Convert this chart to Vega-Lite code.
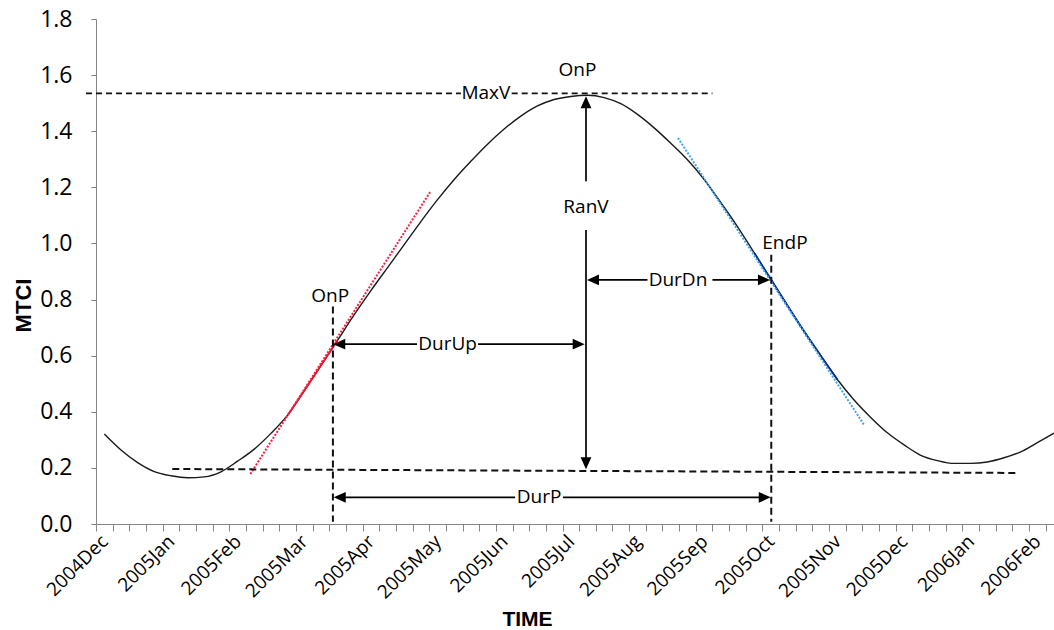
{
  "$schema": "https://vega.github.io/schema/vega-lite/v6.json",
  "width": 958,
  "height": 505,
  "autosize": "none",
  "padding": {"left": 96, "top": 19, "right": 0, "bottom": 106},
  "background": "white",
  "config": {"view": {"stroke": null}, "font": "Open Sans"},
  "datasets": {
    "curve": [
      {"t": 0.5, "v": 0.321}, {"t": 1.5, "v": 0.264}, {"t": 2.5, "v": 0.219}, {"t": 3.5, "v": 0.187},
      {"t": 4.5, "v": 0.172}, {"t": 5.5, "v": 0.165}, {"t": 6.5, "v": 0.168}, {"t": 7.5, "v": 0.186},
      {"t": 8.5, "v": 0.224}, {"t": 9.5, "v": 0.267}, {"t": 10.5, "v": 0.323}, {"t": 11.5, "v": 0.388},
      {"t": 12.5, "v": 0.475}, {"t": 13.5, "v": 0.565}, {"t": 14.5, "v": 0.655}, {"t": 15.5, "v": 0.746},
      {"t": 16.5, "v": 0.832}, {"t": 17.5, "v": 0.914}, {"t": 18.5, "v": 0.996}, {"t": 19.5, "v": 1.078},
      {"t": 20.5, "v": 1.156}, {"t": 21.5, "v": 1.228}, {"t": 22.5, "v": 1.293}, {"t": 23.5, "v": 1.354},
      {"t": 24.5, "v": 1.408}, {"t": 25.5, "v": 1.454}, {"t": 26.5, "v": 1.490}, {"t": 27.5, "v": 1.513},
      {"t": 28.5, "v": 1.524}, {"t": 29.5, "v": 1.528}, {"t": 30.5, "v": 1.520}, {"t": 31.5, "v": 1.498},
      {"t": 32.5, "v": 1.460}, {"t": 33.5, "v": 1.412}, {"t": 34.5, "v": 1.357}, {"t": 35.5, "v": 1.298},
      {"t": 36.5, "v": 1.228}, {"t": 37.5, "v": 1.146}, {"t": 38.5, "v": 1.060}, {"t": 39.5, "v": 0.967},
      {"t": 40.5, "v": 0.873}, {"t": 41.5, "v": 0.779}, {"t": 42.5, "v": 0.687}, {"t": 43.5, "v": 0.600},
      {"t": 44.5, "v": 0.515}, {"t": 45.5, "v": 0.442}, {"t": 46.5, "v": 0.380}, {"t": 47.5, "v": 0.325},
      {"t": 48.5, "v": 0.282}, {"t": 49.5, "v": 0.245}, {"t": 50.5, "v": 0.226}, {"t": 51.5, "v": 0.216},
      {"t": 52.5, "v": 0.216}, {"t": 53.5, "v": 0.221}, {"t": 54.5, "v": 0.236}, {"t": 55.5, "v": 0.257},
      {"t": 56.5, "v": 0.290}, {"t": 57.5, "v": 0.324}
    ],
    "dashedThin": [
      {"t": -0.6, "v": 1.535, "t2": 21.9, "v2": 1.535},
      {"t": 24.95, "v": 1.535, "t2": 37.0, "v2": 1.535}
    ],
    "dashedThick": [
      {"t": 4.58, "v": 0.196, "t2": 55.2, "v2": 0.182},
      {"t": 14.22, "v": 0.775, "t2": 14.22, "v2": 0.008},
      {"t": 40.53, "v": 0.96, "t2": 40.53, "v2": 0.008}
    ],
    "shafts": [
      {"t": 29.41, "v": 1.222, "t2": 29.41, "v2": 1.51},
      {"t": 29.41, "v": 1.048, "t2": 29.41, "v2": 0.21},
      {"t": 14.5, "v": 0.641, "t2": 19.27, "v2": 0.641},
      {"t": 22.93, "v": 0.641, "t2": 29.1, "v2": 0.641},
      {"t": 29.7, "v": 0.87, "t2": 33.1, "v2": 0.87},
      {"t": 37.0, "v": 0.87, "t2": 40.2, "v2": 0.87},
      {"t": 14.5, "v": 0.095, "t2": 25.15, "v2": 0.095},
      {"t": 28.03, "v": 0.095, "t2": 40.25, "v2": 0.095}
    ],
    "heads": [
      {"t": 29.41, "v": 1.525, "dir": "up"},
      {"t": 29.41, "v": 0.195, "dir": "down"},
      {"t": 14.24, "v": 0.641, "dir": "left"},
      {"t": 29.33, "v": 0.641, "dir": "right"},
      {"t": 29.47, "v": 0.87, "dir": "left"},
      {"t": 40.45, "v": 0.87, "dir": "right"},
      {"t": 14.27, "v": 0.095, "dir": "left"},
      {"t": 40.5, "v": 0.095, "dir": "right"}
    ],
    "tangentUp": [{"t": 9.26, "v": 0.178, "t2": 20.05, "v2": 1.183}],
    "tangentDown": [{"t": 34.93, "v": 1.376, "t2": 46.1, "v2": 0.353}],
    "labels": [
      {"t": 23.4, "v": 1.537, "text": "MaxV"},
      {"t": 28.9, "v": 1.618, "text": "OnP"},
      {"t": 29.41, "v": 1.131, "text": "RanV"},
      {"t": 21.1, "v": 0.641, "text": "DurUp"},
      {"t": 34.93, "v": 0.87, "text": "DurDn"},
      {"t": 26.59, "v": 0.095, "text": "DurP"},
      {"t": 14.06, "v": 0.8125, "text": "OnP"},
      {"t": 41.35, "v": 1.001, "text": "EndP"}
    ]
  },
  "encoding": {
    "x": {
      "field": "t", "type": "quantitative",
      "scale": {"domain": [0, 57.5], "nice": false, "zero": false},
      "axis": {
        "values": [0,1,2,3,4,5,6,7,8,9,10,11,12,13,14,15,16,17,18,19,20,21,22,23,24,25,26,27,28,29,30,31,32,33,34,35,36,37,38,39,40,41,42,43,44,45,46,47,48,49,50,51,52,53,54,55,56,57,0.5,4.5,8.5,12.5,16.5,20.5,24.5,28.5,32.5,36.5,40.5,44.5,48.5,52.5,56.5],
        "labelExpr": "datum.value % 1 == 0 ? '' : ['2004Dec','2005Jan','2005Feb','2005Mar','2005Apr','2005May','2005Jun','2005Jul','2005Aug','2005Sep','2005Oct','2005Nov','2005Dec','2006Jan','2006Feb'][floor(datum.value / 4)]",
        "tickOpacity": {"condition": {"test": "datum.value % 1 != 0", "value": 0}, "value": 1},
        "labelAngle": -45, "labelAlign": "right", "labelBaseline": "middle",
        "labelFont": "Open Sans", "labelFontSize": 19, "labelColor": "black",
        "tickSize": 7, "tickColor": "#868686", "domainColor": "#868686", "tickWidth": 1, "domainWidth": 1,
        "labelPadding": 7, "labelOverlap": false, "labelBound": false, "labelFlush": false,
        "grid": false,
        "title": "TIME", "titleFont": "Liberation Sans", "titleFontSize": 21, "titleFontWeight": "bold",
        "titleColor": "black", "titleX": 431, "titleY": 95, "titleAlign": "center", "titleBaseline": "middle"
      }
    },
    "y": {
      "field": "v", "type": "quantitative",
      "scale": {"domain": [0, 1.8], "nice": false, "zero": false},
      "axis": {
        "values": [0, 0.2, 0.4, 0.6, 0.8, 1.0, 1.2, 1.4, 1.6, 1.8],
        "format": ".1f",
        "labelFont": "Open Sans", "labelFontSize": 23, "labelColor": "black",
        "tickSize": 5, "tickColor": "#868686", "domainColor": "#868686", "tickWidth": 1, "domainWidth": 1,
        "labelPadding": 19, "labelFlush": false, "labelBound": false, "labelOverlap": false,
        "grid": false,
        "title": "MTCI", "titleFont": "Liberation Sans", "titleFontSize": 22, "titleFontWeight": "bold",
        "titleColor": "black", "titleX": -73, "titleY": 286, "titleAngle": 270,
        "titleAlign": "center", "titleBaseline": "middle"
      }
    }
  },
  "layer": [
    {
      "data": {"name": "curve"},
      "mark": {"type": "line", "color": "#1a1a1a", "strokeWidth": 1.4, "interpolate": "monotone"}
    },
    {
      "data": {"name": "curve"},
      "transform": [{"filter": "datum.t >= 11.5 && datum.t <= 14.5"}],
      "mark": {"type": "line", "color": "#e8112d", "strokeWidth": 1.8, "interpolate": "monotone"}
    },
    {
      "data": {"name": "curve"},
      "transform": [{"filter": "datum.t >= 39.5 && datum.t <= 44.5"}],
      "mark": {"type": "line", "color": "#0d2a8c", "strokeWidth": 1.8, "interpolate": "monotone"}
    },
    {
      "data": {"name": "tangentUp"},
      "mark": {"type": "rule", "color": "#ff1f3d", "strokeWidth": 2, "strokeDash": [2, 1.5]},
      "encoding": {"x2": {"field": "t2"}, "y2": {"field": "v2"}}
    },
    {
      "data": {"name": "tangentDown"},
      "mark": {"type": "rule", "color": "#3fa4f0", "strokeWidth": 2, "strokeDash": [2, 1.5]},
      "encoding": {"x2": {"field": "t2"}, "y2": {"field": "v2"}}
    },
    {
      "data": {"name": "dashedThin"},
      "mark": {"type": "rule", "color": "#111111", "strokeWidth": 1.6, "strokeDash": [6, 4]},
      "encoding": {"x2": {"field": "t2"}, "y2": {"field": "v2"}}
    },
    {
      "data": {"name": "dashedThick"},
      "mark": {"type": "rule", "color": "#111111", "strokeWidth": 2, "strokeDash": [7, 4]},
      "encoding": {"x2": {"field": "t2"}, "y2": {"field": "v2"}}
    },
    {
      "data": {"name": "shafts"},
      "mark": {"type": "rule", "color": "black", "strokeWidth": 1.7},
      "encoding": {"x2": {"field": "t2"}, "y2": {"field": "v2"}}
    },
    {
      "data": {"name": "heads"},
      "mark": {"type": "point", "filled": true, "color": "black", "opacity": 1, "size": 576, "strokeWidth": 0},
      "encoding": {
        "shape": {
          "field": "dir", "type": "nominal", "legend": null,
          "scale": {
            "domain": ["up", "down", "left", "right"],
            "range": ["M0,0L0.45,1L-0.45,1Z", "M0,0L0.45,-1L-0.45,-1Z", "M0,0L1,0.45L1,-0.45Z", "M0,0L-1,0.45L-1,-0.45Z"]
          }
        }
      }
    },
    {
      "data": {"name": "labels"},
      "mark": {"type": "text", "font": "Open Sans", "fontSize": 19, "color": "black", "align": "center", "baseline": "middle"},
      "encoding": {"text": {"field": "text", "type": "nominal"}}
    }
  ]
}
